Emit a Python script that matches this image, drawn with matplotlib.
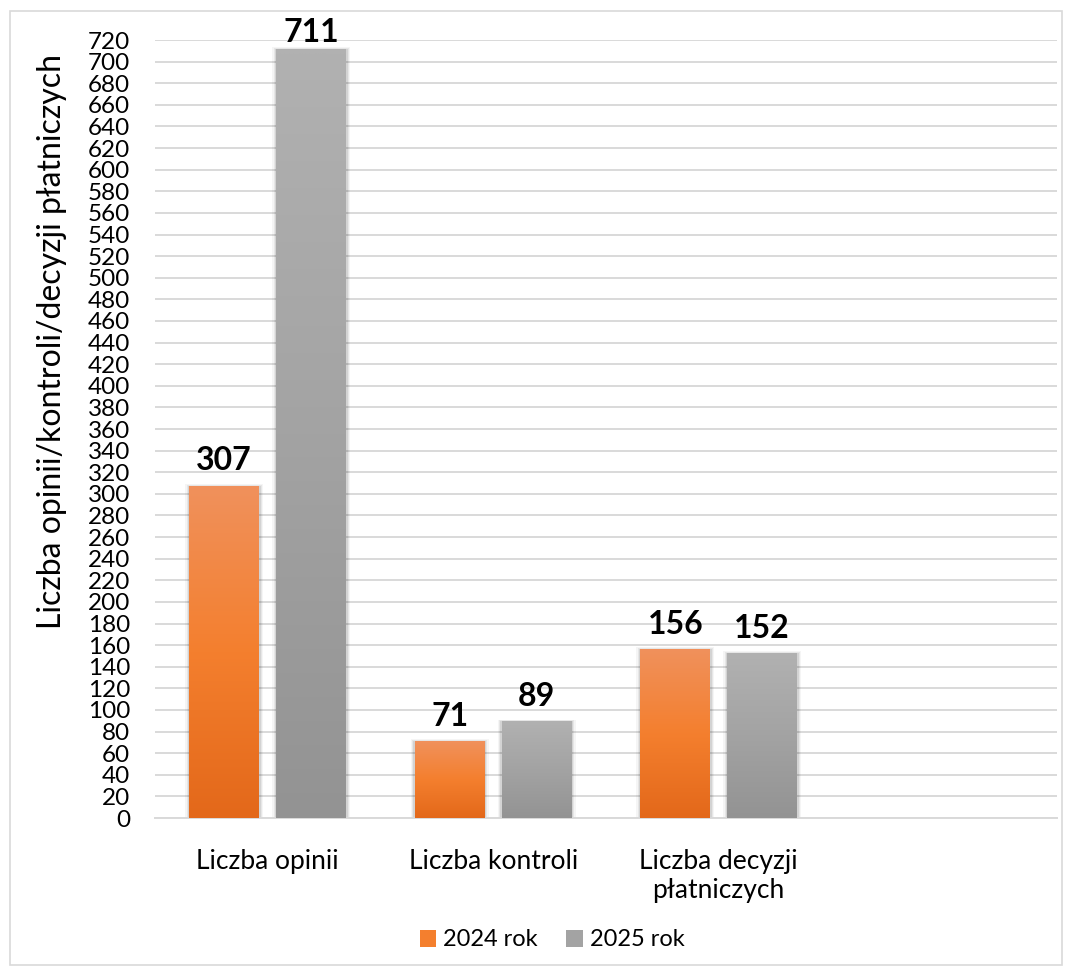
import numpy as np
import matplotlib.pyplot as plt
from matplotlib.colors import LinearSegmentedColormap
from matplotlib.patches import Rectangle

plt.rcParams['font.family'] = ['Lato', 'DejaVu Sans']

categories = ["Liczba opinii", "Liczba kontroli", "Liczba decyzji\npłatniczych", ""]
series_names = ["2024 rok", "2025 rok"]
values_2024 = [307, 71, 156]
values_2025 = [711, 89, 152]
y_ticks = list(range(0, 721, 20))

# gradients: bottom -> top
orange_cmap = LinearSegmentedColormap.from_list("orange", ["#E3681A", "#F47F2E", "#F0915C"])
gray_cmap = LinearSegmentedColormap.from_list("gray", ["#939393", "#A3A3A3", "#B1B1B1"])


def gradient_bars(ax, xs, heights, width, cmap):
    grad = np.linspace(0, 1, 256).reshape(-1, 1)
    for x, h in zip(xs, heights):
        x0, x1 = x - width / 2, x + width / 2
        # soft shadow
        for k, a in zip([0.018, 0.012, 0.006], [0.04, 0.06, 0.08]):
            ax.add_patch(Rectangle((x0 - k, -2), width + 2 * k, h + 2 + 3 * k * 40,
                                   facecolor="black", edgecolor="none", alpha=a, zorder=2))
        ax.imshow(grad, cmap=cmap, origin="lower", aspect="auto",
                  extent=(x0, x1, 0, h), zorder=3, interpolation="bicubic")


fig = plt.figure(figsize=(10.72, 9.69), dpi=100)
ax = fig.add_axes([0.1446, 0.1558, 0.8414, 0.8029])

x = np.arange(len(categories))
width = 0.31
offset = 0.193

gradient_bars(ax, x[:3] - offset, values_2024, width, orange_cmap)
gradient_bars(ax, x[:3] + offset, values_2025, width, gray_cmap)

# labels above bars, kept inside the plot area at the top
for xs, vals in [(x[:3] - offset, values_2024), (x[:3] + offset, values_2025)]:
    for xi, v in zip(xs, vals):
        ax.text(xi, min(v + 10, 714), str(v), ha="center", va="bottom",
                fontsize=23, fontweight="bold")

ax.set_xlim(-0.5, len(categories) - 0.5)
ax.set_ylim(0, 720)
ax.set_yticks(y_ticks)
ax.tick_params(axis="y", labelsize=17.5, length=0, pad=18)
ax.set_xticks(x)
ax.set_xticklabels(categories, fontsize=19)
ax.tick_params(axis="x", length=0, pad=22)

ax.grid(axis="y", color="#D9D9D9", linewidth=1.4, zorder=0)
ax.set_axisbelow(True)
for s in ["top", "right", "left"]:
    ax.spines[s].set_visible(False)
ax.spines["bottom"].set_color("#D9D9D9")
ax.spines["bottom"].set_linewidth(1.4)

ax.set_ylabel("Liczba opinii/kontroli/decyzji płatniczych", fontsize=23)
ax.yaxis.set_label_coords(-0.098, 0.613)

handles = [Rectangle((0, 0), 1, 1, facecolor="#F47F2E"), Rectangle((0, 0), 1, 1, facecolor="#A3A3A3")]
fig.legend(handles, series_names, loc="center", bbox_to_anchor=(552 / 1072, 29 / 969), ncol=2,
           frameon=False, fontsize=17, handlelength=0.7, handleheight=0.7,
           handletextpad=0.3, columnspacing=1.2)

fig.patches.append(Rectangle((10 / 1072, 4 / 969), 1052 / 1072, 954 / 969, transform=fig.transFigure,
                             fill=False, edgecolor="#D9D9D9", linewidth=1.2))

fig.savefig("out.png", dpi=100)
